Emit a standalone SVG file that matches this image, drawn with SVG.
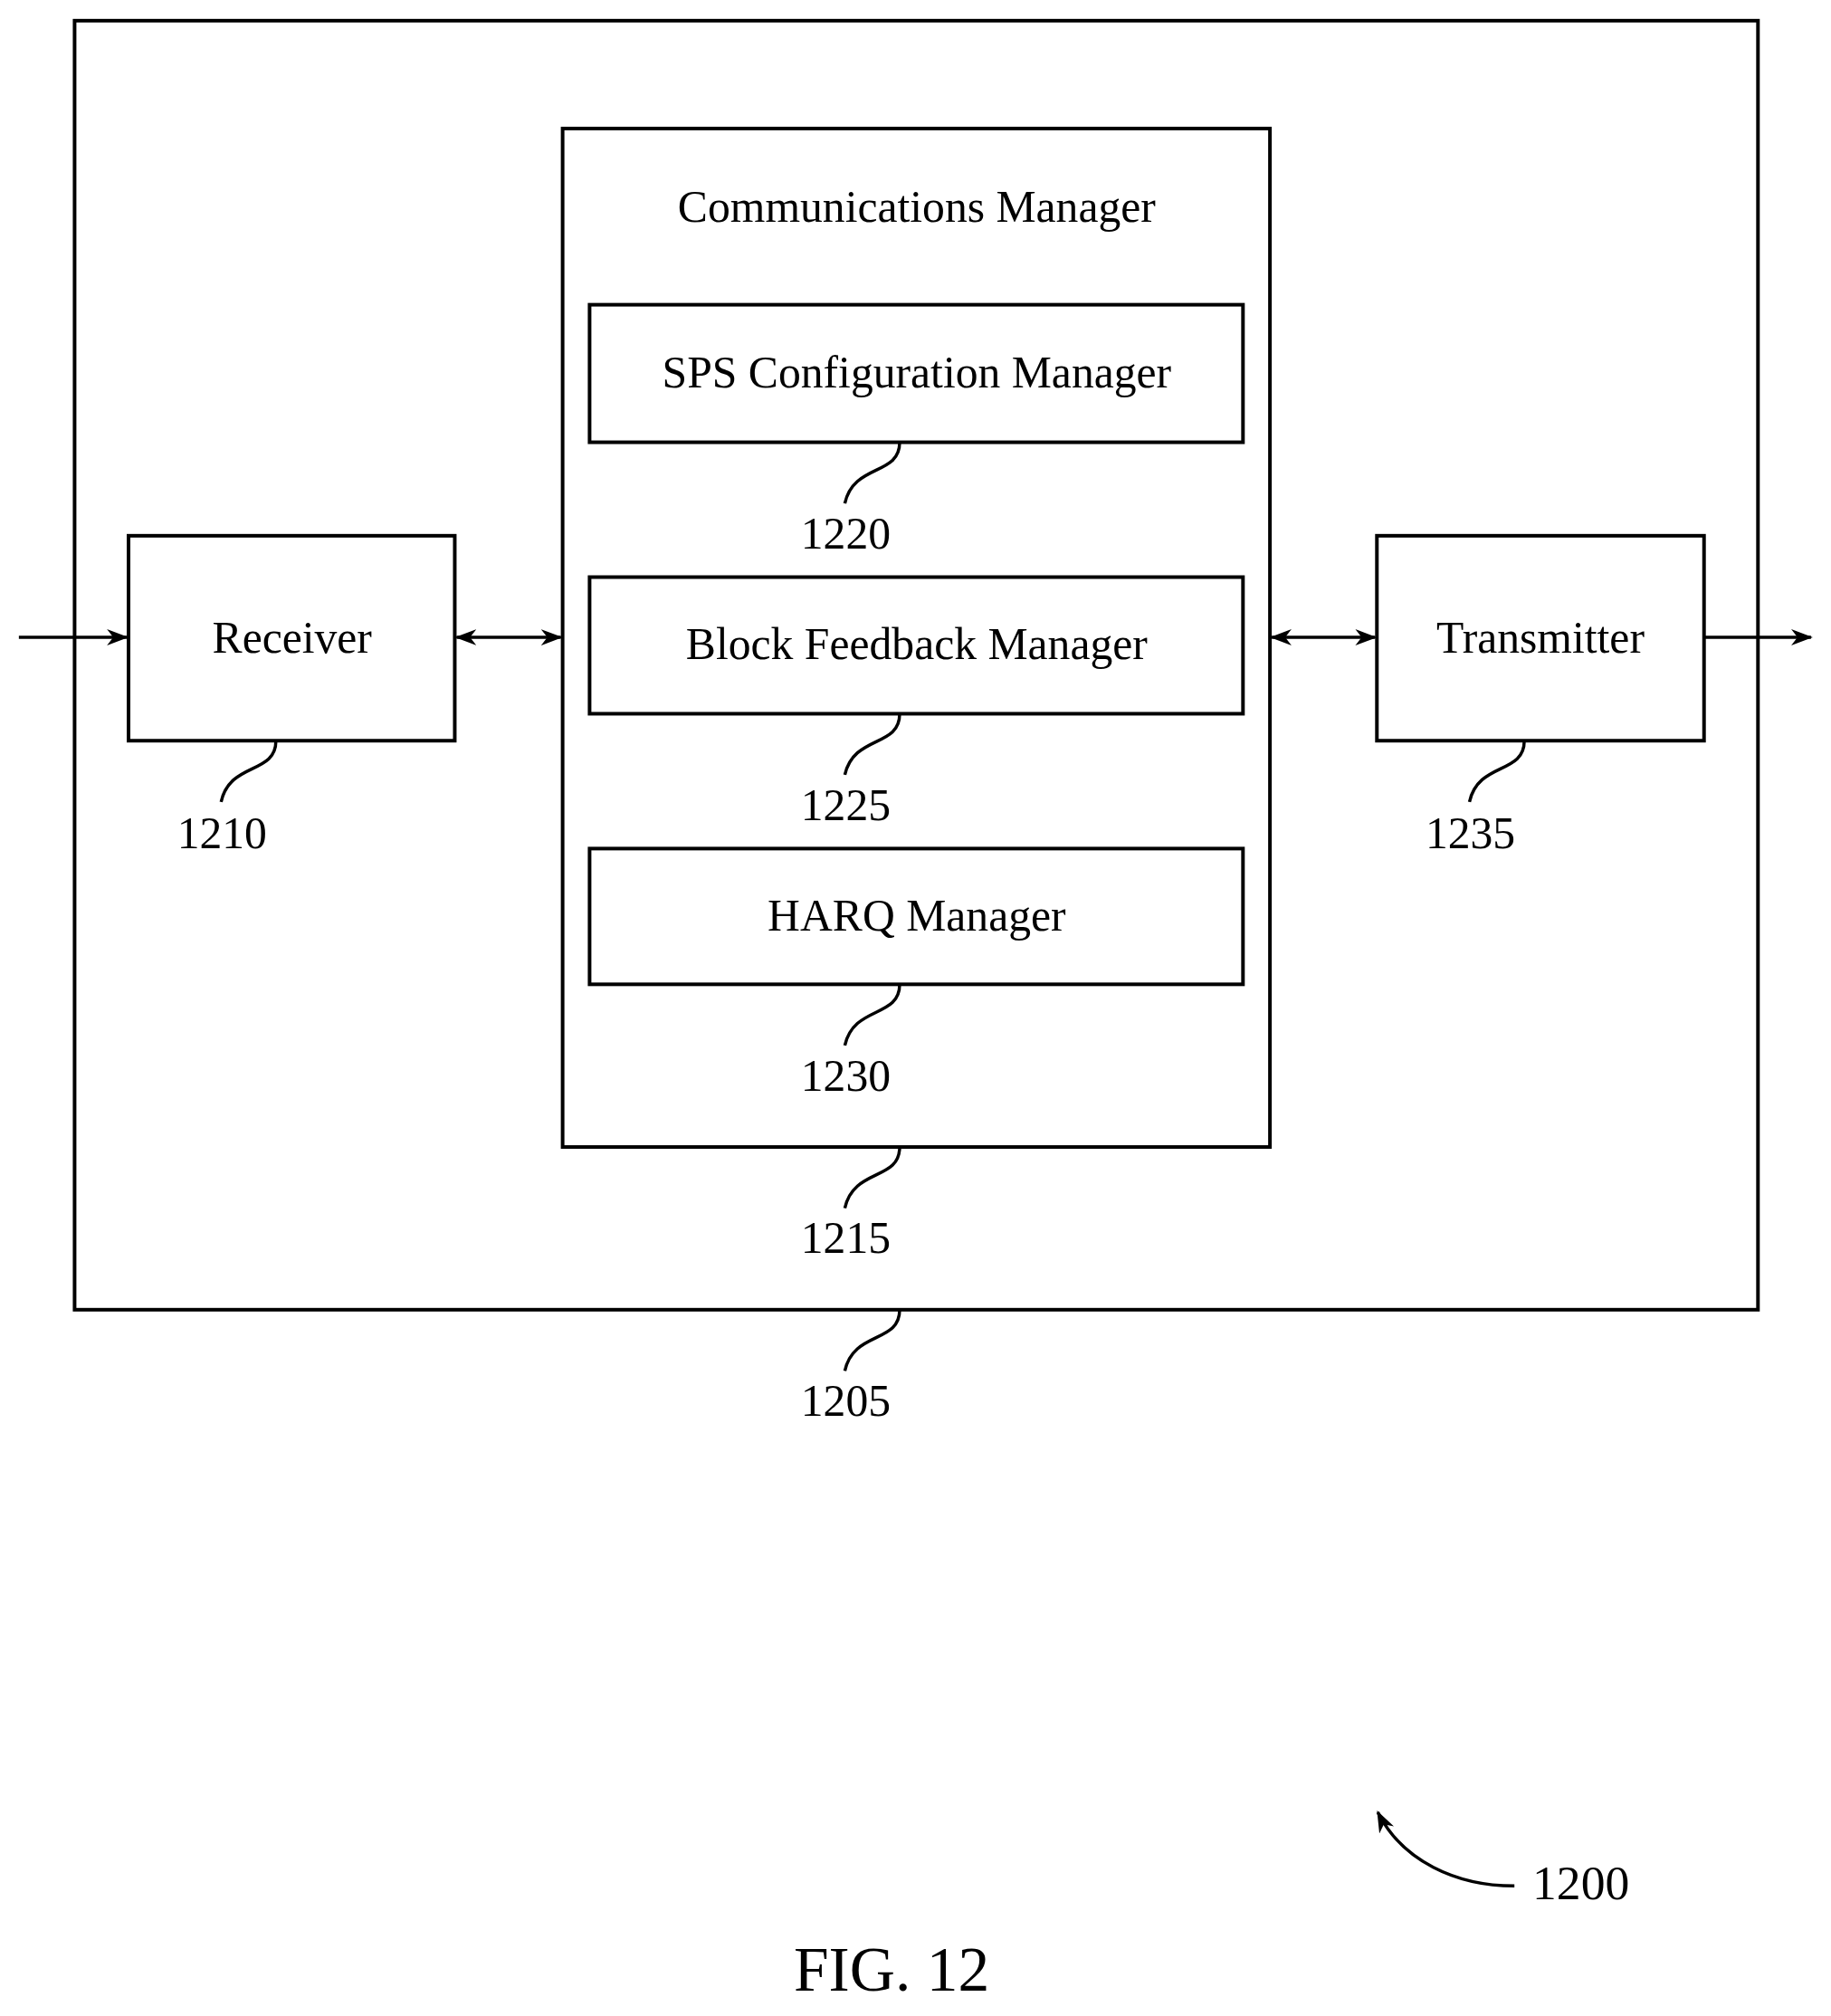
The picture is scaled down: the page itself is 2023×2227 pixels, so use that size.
<svg xmlns="http://www.w3.org/2000/svg" width="2023" height="2227" viewBox="0 0 2023 2227">
<style>
.b{fill:none;stroke:#000;stroke-width:4}
.l{fill:none;stroke:#000;stroke-width:3.5}
text{font-family:"Liberation Serif",serif;font-size:50px;fill:#000;text-anchor:middle}
</style>
<defs>
<marker id="a" viewBox="0 0 24 20" refX="22" refY="10" markerWidth="24" markerHeight="20" markerUnits="userSpaceOnUse" orient="auto-start-reverse"><path d="M0,1 L24,10 L0,19 L7,10 Z" fill="#000"/></marker>
</defs>
<rect width="2023" height="2227" fill="#fff"/>
<g transform="scale(0.993)">
<g id="device"><rect class="b" x="83" y="23" width="1873" height="1434"/><path class="l" d="M1001,1457 C1001,1495 950,1480 940,1525"/><text x="941" y="1575">1205</text></g>
<g id="comm"><rect class="b" x="626" y="143" width="787" height="1133"/><text x="1020" y="247">Communications Manager</text><path class="l" d="M1001,1276 C1001,1314 950,1299 940,1344"/><text x="941" y="1394">1215</text></g>
<g id="sps"><rect class="b" x="656" y="339" width="727" height="153"/><text x="1020" y="431">SPS Configuration Manager</text><path class="l" d="M1001,492 C1001,530 950,515 940,560"/><text x="941" y="610">1220</text></g>
<g id="bfm"><rect class="b" x="656" y="642" width="727" height="152"/><text x="1020" y="733">Block Feedback Manager</text><path class="l" d="M1001,794 C1001,832 950,817 940,862"/><text x="941" y="912">1225</text></g>
<g id="harq"><rect class="b" x="656" y="944" width="727" height="151"/><text x="1020" y="1035">HARQ Manager</text><path class="l" d="M1001,1095 C1001,1133 950,1118 940,1163"/><text x="941" y="1213">1230</text></g>
<g id="rx"><rect class="b" x="143" y="596" width="363" height="228"/><text x="325" y="726">Receiver</text><path class="l" d="M307,824 C307,862 256,847 246,892"/><text x="247" y="944">1210</text></g>
<g id="tx"><rect class="b" x="1532" y="596" width="364" height="228"/><text x="1714" y="726">Transmitter</text><path class="l" d="M1696,824 C1696,862 1645,847 1635,892"/><text x="1636" y="944">1235</text></g>
<g id="connectors">
<line class="l" x1="21" y1="709" x2="141" y2="709" marker-end="url(#a)"/>
<line class="l" x1="508" y1="709" x2="624" y2="709" marker-start="url(#a)" marker-end="url(#a)"/>
<line class="l" x1="1415" y1="709" x2="1530" y2="709" marker-start="url(#a)" marker-end="url(#a)"/>
<line class="l" x1="1896" y1="709" x2="2015" y2="709" marker-end="url(#a)"/>
<path class="l" d="M1685,2098 C1620,2098 1560,2070 1533,2016" marker-end="url(#a)"/>
</g>
<text x="1759" y="2113" style="font-size:54px">1200</text>
<text x="992" y="2215" style="font-size:70px">FIG. 12</text>
</g>
</svg>
